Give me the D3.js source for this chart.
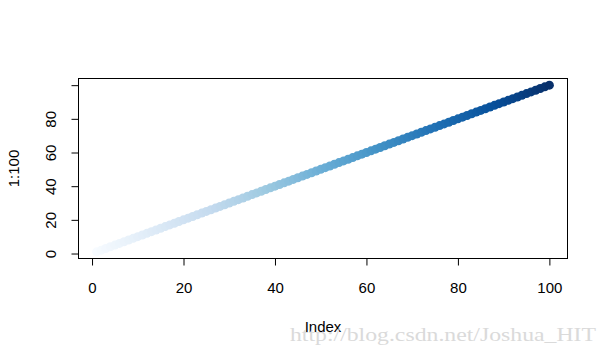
<!DOCTYPE html>
<html>
<head>
<meta charset="utf-8">
<script src="https://cdn.jsdelivr.net/npm/d3@7"></script>
<style>
  html, body { margin: 0; padding: 0; background: #fff; }
  svg { display: block; }
  text { font-family: "Liberation Sans", Arial, sans-serif; }
</style>
</head>
<body>
<svg id="chart" width="608" height="356"></svg>
<script>
// ---- data ----
const indexValues = [1,2,3,4,5,6,7,8,9,10,11,12,13,14,15,16,17,18,19,20,
  21,22,23,24,25,26,27,28,29,30,31,32,33,34,35,36,37,38,39,40,
  41,42,43,44,45,46,47,48,49,50,51,52,53,54,55,56,57,58,59,60,
  61,62,63,64,65,66,67,68,69,70,71,72,73,74,75,76,77,78,79,80,
  81,82,83,84,85,86,87,88,89,90,91,92,93,94,95,96,97,98,99,100];
const seriesValues = [1,2,3,4,5,6,7,8,9,10,11,12,13,14,15,16,17,18,19,20,
  21,22,23,24,25,26,27,28,29,30,31,32,33,34,35,36,37,38,39,40,
  41,42,43,44,45,46,47,48,49,50,51,52,53,54,55,56,57,58,59,60,
  61,62,63,64,65,66,67,68,69,70,71,72,73,74,75,76,77,78,79,80,
  81,82,83,84,85,86,87,88,89,90,91,92,93,94,95,96,97,98,99,100];
const xTicks = [0, 20, 40, 60, 80, 100];
const xTickLabels = ["0", "20", "40", "60", "80", "100"];
const yTicks = [0, 20, 40, 60, 80, 100];
const yTickLabels = ["0", "20", "40", "60", "80", ""];
const bluesPalette = ["#F7FBFF","#DEEBF7","#C6DBEF","#9ECAE1","#6BAED6","#4292C6","#2171B5","#08519C","#08306B"];
const xTitle = "Index";
const yTitle = "1:100";
const watermark = "http://blog.csdn.net/Joshua_HIT";

// ---- layout ----
const svg = d3.select("#chart");
const box = { left: 78.5, right: 567.5, top: 78.5, bottom: 258.5 };

function extend(lo, hi) { const d = (hi - lo) * 0.04; return [lo - d, hi + d]; }
const x = d3.scaleLinear().domain(extend(d3.min(indexValues), d3.max(indexValues))).range([box.left, box.right]);
const y = d3.scaleLinear().domain(extend(d3.min(seriesValues), d3.max(seriesValues))).range([box.bottom, box.top]);

const n = indexValues.length;
const color = d3.scaleLinear()
  .domain(bluesPalette.map((c, i) => 1 + i * (n - 1) / (bluesPalette.length - 1)))
  .range(bluesPalette)
  .interpolate(d3.interpolateRgb);

// points
svg.append("g").selectAll("circle")
  .data(indexValues.map((v, i) => ({ x: v, y: seriesValues[i], k: i + 1 })))
  .join("circle")
  .attr("cx", d => x(d.x))
  .attr("cy", d => y(d.y))
  .attr("r", 4.5)
  .attr("fill", d => color(d.k));

// box
svg.append("rect")
  .attr("x", box.left).attr("y", box.top)
  .attr("width", box.right - box.left).attr("height", box.bottom - box.top)
  .attr("fill", "none").attr("stroke", "#000").attr("stroke-width", 1);

// x axis
const xAxis = d3.axisBottom(x).tickValues(xTicks).tickSize(7).tickFormat((d, i) => xTickLabels[i]);
const gx = svg.append("g").attr("transform", `translate(0,${box.bottom})`).call(xAxis);
gx.select(".domain").remove();
gx.selectAll(".tick line").attr("stroke", "#000");
gx.selectAll(".tick text").attr("y", 34).attr("dy", 0)
  .attr("fill", "#000").style("font-size", "15px").style("font-family", "'Liberation Sans', Arial, sans-serif");
gx.append("line").attr("x1", x(xTicks[0])).attr("x2", x(xTicks[xTicks.length - 1]))
  .attr("y1", 0).attr("y2", 0).attr("stroke", "#000");

// y axis
const yAxis = d3.axisLeft(y).tickValues(yTicks).tickSize(7).tickFormat((d, i) => yTickLabels[i]);
const gy = svg.append("g").attr("transform", `translate(${box.left},0)`).call(yAxis);
gy.select(".domain").remove();
gy.selectAll(".tick line").attr("stroke", "#000");
gy.selectAll(".tick text")
  .attr("x", 0).attr("dy", 0)
  .attr("transform", "translate(-23,0) rotate(-90)")
  .attr("text-anchor", "middle")
  .attr("fill", "#000").style("font-size", "15px").style("font-family", "'Liberation Sans', Arial, sans-serif");
gy.append("line").attr("y1", y(yTicks[0])).attr("y2", y(yTicks[yTicks.length - 1]))
  .attr("x1", 0).attr("x2", 0).attr("stroke", "#000");

// titles
svg.append("text").attr("x", (box.left + box.right) / 2).attr("y", 332)
  .attr("text-anchor", "middle").style("font-size", "15px").attr("fill", "#000").text(xTitle);
svg.append("text").attr("transform", `translate(18.5,${(box.top + box.bottom) / 2}) rotate(-90)`)
  .attr("text-anchor", "middle").style("font-size", "15px").attr("fill", "#000").text(yTitle);

// watermark
svg.append("text").attr("x", 290).attr("y", 341)
  .attr("textLength", 306).attr("lengthAdjust", "spacingAndGlyphs")
  .style("font-family", "'Liberation Serif', 'DejaVu Serif', serif")
  .style("font-size", "18px").attr("fill", "#dadada").text(watermark);
</script>
</body>
</html>
